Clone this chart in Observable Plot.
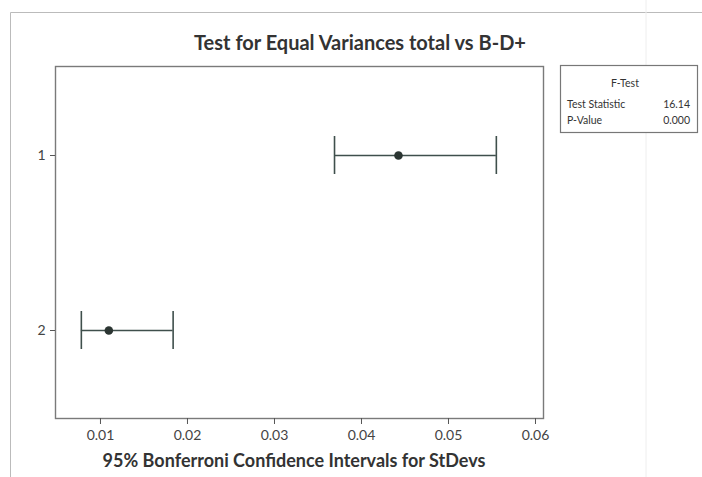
<!DOCTYPE html>
<html>
<head>
<meta charset="utf-8">
<script src="https://cdn.jsdelivr.net/npm/d3@7"></script>
<script src="https://cdn.jsdelivr.net/npm/@observablehq/plot@0.6"></script>
<style>
  html, body { margin: 0; padding: 0; background: #fff; }
  svg { display: block; }
</style>
</head>
<body>
<div id="chart"></div>
<script>
const groups = ["1", "2"];
const lower = [0.0369, 0.0078];
const estimate = [0.04425, 0.01096];
const upper = [0.0555, 0.01835];
const xTicks = [0.01, 0.02, 0.03, 0.04, 0.05, 0.06];
const titleText = "Test for Equal Variances total vs B-D+";
const xLabel = "95% Bonferroni Confidence Intervals for StDevs";
const legendTitle = "F-Test";
const legendLabels = ["Test Statistic", "P-Value"];
const legendValues = ["16.14", "0.000"];

const data = groups.map((g, i) => ({g, lo: lower[i], est: estimate[i], hi: upper[i]}));

const W = 702, H = 477;
const font = "Lato, 'Open Sans', sans-serif";

const plot = Plot.plot({
  width: W,
  height: H,
  marginLeft: 55,
  marginRight: 159,
  marginTop: 66,
  marginBottom: 59,
  style: {fontFamily: font, fontSize: "14px", color: "#444", background: "#fff"},
  x: {domain: [0.00483, 0.06092], label: null},
  y: {domain: groups, paddingInner: 0.783, paddingOuter: 0.397, label: null},
  marks: [
    Plot.frame({stroke: "#7a7a7a", strokeWidth: 1.4}),
    Plot.axisX({ticks: xTicks, tickFormat: d3.format(".2f"), tickSize: 6, tickPadding: 6, stroke: "#555", fill: "#444", fontSize: 14, label: null}),
    Plot.axisY({tickSize: 5, tickPadding: 5, stroke: "#555", fill: "#444", fontSize: 14, label: null}),
    Plot.ruleY(data, {y: "g", x1: "lo", x2: "hi", stroke: "#3f4f4c", strokeWidth: 1.4}),
    Plot.tickX(data, {y: "g", x: "lo", stroke: "#3f4f4c", strokeWidth: 1.6}),
    Plot.tickX(data, {y: "g", x: "hi", stroke: "#3f4f4c", strokeWidth: 1.6}),
    Plot.dot(data, {y: "g", x: "est", r: 4.3, fill: "#2b3532", stroke: "none"})
  ]
});

const svg = d3.select(plot);
// outer border
svg.insert("path", ":first-child")
  .attr("d", `M10.5,${H} V12.5 H${W}`)
  .attr("fill", "none").attr("stroke", "#bbb").attr("stroke-width", 1);
svg.append("line").attr("x1", 646).attr("x2", 646).attr("y1", 0).attr("y2", H)
  .attr("stroke", "#eee").attr("stroke-width", 1);

// title
svg.append("text").attr("x", 360).attr("y", 50).attr("text-anchor", "middle")
  .attr("font-family", font).attr("font-weight", "bold").attr("font-size", 20)
  .attr("fill", "#333").text(titleText);

// x label
svg.append("text").attr("x", 294).attr("y", 467).attr("text-anchor", "middle")
  .attr("font-family", font).attr("font-weight", "bold").attr("font-size", 18)
  .attr("fill", "#333").text(xLabel);

// legend box
const lg = svg.append("g").attr("font-family", font).attr("font-size", 10.5).attr("fill", "#333");
lg.append("rect").attr("x", 560.5).attr("y", 65.5).attr("width", 137).attr("height", 67)
  .attr("fill", "#fff").attr("stroke", "#777").attr("stroke-width", 1.2);
lg.append("text").attr("x", 625).attr("y", 87).attr("text-anchor", "middle").text(legendTitle);
legendLabels.forEach((lab, i) => {
  lg.append("text").attr("x", 567).attr("y", 108 + i * 16).attr("text-anchor", "start").text(lab);
  lg.append("text").attr("x", 690).attr("y", 108 + i * 16).attr("text-anchor", "end").text(legendValues[i]);
});

document.getElementById("chart").appendChild(plot);
</script>
</body>
</html>
